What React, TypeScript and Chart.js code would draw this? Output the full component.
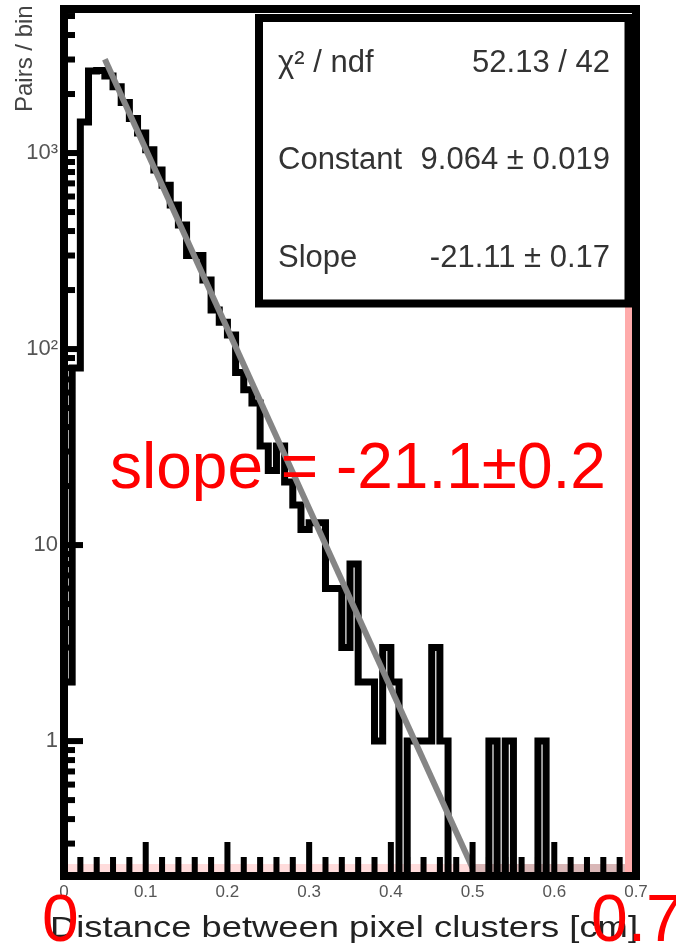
import { useEffect, useRef } from "react";
import { Chart, registerables } from "chart.js";

Chart.register(...registerables);

// Histogram of cluster distances: 70 bins of 0.01 cm between 0 and 0.7
const binLow = 0;
const binWidth = 0.01;
const binCounts = [
  2, 80, 1440, 2620, 2640, 2470, 2180, 1810, 1500, 1265,
  1040, 820, 685, 543, 430, 300, 300, 225, 158, 137,
  118, 76, 62, 53, 32, 24, 32, 21, 16, 12,
  13, 13, 6, 6, 3, 8, 2, 2, 1, 3,
  2, 0, 1, 1, 1, 3, 1, 0, 0, 0,
  0, 0, 1, 0, 1, 0, 0, 0, 1, 0,
  0, 0, 0, 0, 0, 0, 0, 0, 0, 0,
];

// Exponential fit: exp(constant + slope * x)
const fitConstant = 9.064;
const fitConstantErr = 0.019;
const fitSlope = -21.11;
const fitSlopeErr = 0.17;
const fitRange = [0.05, 0.5];
const fitChi2 = 52.13;
const fitNdf = 42;

// Axes
const xMin = 0;
const xMax = 0.7;
const yMin = 0.205;
const yMax = 5430;
const xTickValues = [0, 0.1, 0.2, 0.3, 0.4, 0.5, 0.6, 0.7];
const xTickLabels = ["0", "0.1", "0.2", "0.3", "0.4", "0.5", "0.6", "0.7"];
const xMinorPerMajor = 5;
const yTickValues = [1, 10, 100, 1000];
const yTickLabels = ["1", "10", "10\u00b2", "10\u00b3"];

const xTitle = "Distance between pixel clusters [cm]";
const yTitle = "Pairs / bin";
const slopeNote = "slope = -21.1\u00b10.2";
const cornerLeft = "0";
const cornerRight = "0.7";

const FONT = '"Liberation Sans", Arial, sans-serif';
const FRAME = 8;

const rootStyle = {
  id: "rootStyle",
  beforeDatasetsDraw(chart: any) {
    const { ctx, chartArea: a, scales } = chart;
    const half = FRAME / 2;
    const inL = a.left + half;
    const inR = a.right - half;
    const inB = a.bottom - half;
    const xEnd = scales.x.getPixelForValue(fitRange[1]);
    ctx.save();
    ctx.fillStyle = "#ffdcdc";
    ctx.fillRect(inL, inB - 8, xEnd - inL, 8);
    ctx.fillStyle = "#d9b7b7";
    ctx.fillRect(xEnd, inB - 8, inR - 7 - xEnd, 8);
    ctx.fillStyle = "#ffabab";
    ctx.fillRect(inR - 7, 307, 7, inB - 307);
    ctx.restore();
  },
  afterDatasetsDraw(chart: any) {
    const { ctx, chartArea: a, scales } = chart;
    const xs = scales.x;
    const ys = scales.y;
    const half = FRAME / 2;
    const inL = a.left + half;
    const inR = a.right - half;
    const inB = a.bottom - half;
    ctx.save();

    // frame
    ctx.strokeStyle = "#000";
    ctx.lineWidth = FRAME;
    ctx.strokeRect(a.left, a.top, a.right - a.left, a.bottom - a.top);

    // x ticks
    ctx.fillStyle = "#000";
    const step = (xTickValues[1] - xTickValues[0]) / xMinorPerMajor;
    const nTicks = Math.round((xMax - xMin) / step);
    for (let k = 1; k < nTicks; k++) {
      const px = xs.getPixelForValue(xMin + k * step);
      const h = k % xMinorPerMajor === 0 ? 30 : 15;
      ctx.fillRect(px - 3, inB - h, 6, h);
    }

    // y ticks (log decades with 2..9 minor marks)
    for (let n = -1; n <= 3; n++) {
      for (let k = 1; k <= 9; k++) {
        const v = k * Math.pow(10, n);
        if (v <= yMin || v >= yMax) continue;
        const py = ys.getPixelForValue(v);
        const len = k === 1 ? 15 : 7;
        ctx.fillRect(inL, py - 3, len, 6);
      }
    }

    // tick labels
    ctx.fillStyle = "#555";
    ctx.font = `17px ${FONT}`;
    ctx.textAlign = "center";
    ctx.textBaseline = "top";
    xTickValues.forEach((v, i) => {
      ctx.fillText(xTickLabels[i], xs.getPixelForValue(v), 884);
    });
    ctx.font = `22px ${FONT}`;
    ctx.textAlign = "right";
    ctx.textBaseline = "middle";
    yTickValues.forEach((v, i) => {
      ctx.fillText(yTickLabels[i], 58, ys.getPixelForValue(v));
    });

    // axis titles
    ctx.fillStyle = "#222";
    ctx.font = `30px ${FONT}`;
    ctx.textAlign = "left";
    ctx.textBaseline = "alphabetic";
    const tw = ctx.measureText(xTitle).width;
    const titleL = 50;
    const titleR = a.right + 2;
    ctx.save();
    ctx.translate(titleL, 937);
    ctx.scale((titleR - titleL) / tw, 1);
    ctx.fillText(xTitle, 0, 0);
    ctx.restore();

    ctx.save();
    ctx.fillStyle = "#444";
    ctx.font = `24px ${FONT}`;
    ctx.translate(32, 112);
    ctx.rotate(-Math.PI / 2);
    ctx.fillText(yTitle, 0, 0);
    ctx.restore();

    // statistics box
    const bx0 = 259;
    const by0 = 18;
    const bx1 = inR - 3.5;
    const by1 = 303.5;
    ctx.fillStyle = "#fff";
    ctx.fillRect(bx0, by0, bx1 - bx0, by1 - by0);
    ctx.lineWidth = 8;
    ctx.strokeStyle = "#000";
    ctx.strokeRect(bx0, by0, bx1 - bx0, by1 - by0);

    const rows: [string, string][] = [
      ["\u03c7\u00b2 / ndf", `${fitChi2.toFixed(2)} / ${fitNdf}`],
      ["Constant", `${fitConstant.toFixed(3)} \u00b1 ${fitConstantErr.toFixed(3)}`],
      ["Slope", `${fitSlope.toFixed(2)} \u00b1 ${fitSlopeErr.toFixed(2)}`],
    ];
    const rowY = [63, 160, 258];
    ctx.fillStyle = "#333";
    ctx.font = `31px ${FONT}`;
    ctx.textBaseline = "middle";
    rows.forEach(([name, val], i) => {
      ctx.textAlign = "left";
      ctx.fillText(name, 278, rowY[i]);
      ctx.textAlign = "right";
      ctx.fillText(val, 610, rowY[i]);
    });

    // red annotations
    ctx.fillStyle = "#ff0000";
    ctx.textAlign = "left";
    ctx.textBaseline = "alphabetic";
    ctx.font = `64px ${FONT}`;
    ctx.fillText(slopeNote, 110, 488);
    ctx.font = `66px ${FONT}`;
    ctx.fillText(cornerLeft, 42, 941);
    ctx.fillText(cornerRight, 591, 941);

    ctx.restore();
  },
};

export default function App() {
  const ref = useRef<HTMLCanvasElement>(null);

  useEffect(() => {
    const canvas = ref.current;
    if (!canvas) return;

    const histPoints = binCounts.map((c, i) => ({
      x: binLow + i * binWidth,
      y: Math.max(c, yMin),
    }));
    histPoints.push({
      x: binLow + binCounts.length * binWidth,
      y: Math.max(binCounts[binCounts.length - 1], yMin),
    });

    const fitPoints = fitRange.map((x) => ({
      x,
      y: Math.exp(fitConstant + fitSlope * x),
    }));

    const chart = new Chart(canvas, {
      type: "line",
      data: {
        datasets: [
          {
            label: "fit",
            data: fitPoints,
            borderColor: "#858585",
            borderWidth: 6,
            pointRadius: 0,
            fill: false,
          },
          {
            label: "histogram",
            data: histPoints,
            stepped: true,
            borderColor: "#000",
            borderWidth: 7,
            borderJoinStyle: "miter",
            borderCapStyle: "butt",
            pointRadius: 0,
            fill: false,
          },
        ],
      },
      options: {
        animation: false,
        responsive: false,
        events: [],
        layout: { padding: { left: 64, right: 40, top: 9, bottom: 71 } },
        scales: {
          x: { type: "linear", min: xMin, max: xMax, display: false },
          y: { type: "logarithmic", min: yMin, max: yMax, display: false },
        },
        plugins: {
          legend: { display: false },
          tooltip: { enabled: false },
        },
      },
      plugins: [rootStyle],
    } as any);

    return () => chart.destroy();
  }, []);

  return (
    <div
      style={{
        position: "absolute",
        left: 0,
        top: 0,
        width: 676,
        height: 947,
        background: "#fff",
      }}
    >
      <canvas ref={ref} width={676} height={947} style={{ display: "block" }} />
    </div>
  );
}
